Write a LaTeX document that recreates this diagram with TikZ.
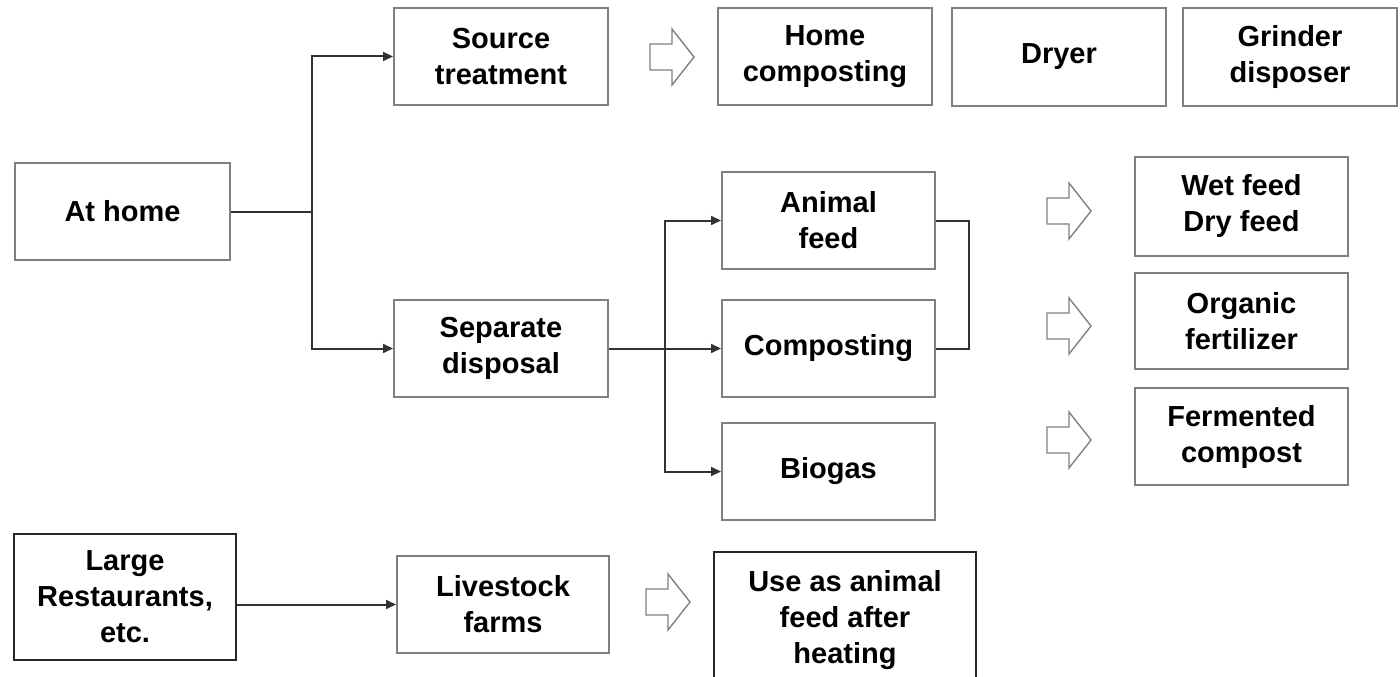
\documentclass[tikz,border=0pt]{standalone}
\usepackage{fontspec}
\setmainfont{Liberation Sans}
\usetikzlibrary{arrows.meta}

\definecolor{boxgray}{RGB}{128,128,128}
\definecolor{linegray}{RGB}{50,50,50}

\tikzset{
  box/.style={draw=boxgray, line width=2pt, align=center, inner sep=0pt,
    minimum width=214pt, minimum height=97pt,
    font=\bfseries\fontsize{29}{36}\selectfont},
  darkbox/.style={box, draw=black!85},
  conn/.style={draw=linegray, line width=2pt},
  tip/.style={conn, -{Triangle[length=10pt,width=9pt]}},
  hollow/.style={draw=boxgray, line width=1.4pt, line join=miter}
}

% block arrow, left end at #1
\newcommand{\blockarrow}[1]{
  \draw [hollow, shift={#1}] (0,-13) -- (22,-13) -- (22,-28) -- (44,0)
    -- (22,28) -- (22,13) -- (0,13) -- cycle;
}

\begin{document}
\begin{tikzpicture}[x=1pt, y=-1pt]
    \useasboundingbox (0,0) rectangle (1400,677);
    % sources
    \node [box, minimum width=215pt] (home) at (122.5, 211.5) {At home};
    \node [darkbox, minimum width=222pt, minimum height=126pt] (large) at (125, 597) {Large\\Restaurants,\\etc.};
    % routes
    \node [box] (source) at (501, 56.5) {Source\\treatment};
    \node [box] (separate) at (501, 348.5) {Separate\\disposal};
    \node [box, minimum width=212pt] (livestock) at (503, 604.5) {Livestock\\farms};
    % source treatment
    \node [box] (homecomp) at (825, 56.5) {Home\\composting};
    \node [box] (dryer) at (1059, 57) {Dryer};
    \node [box] (grinder) at (1290, 57) {Grinder\\disposer};
    % separate disposal
    \node [box, minimum width=213pt] (animal) at (828.5, 220.5) {Animal\\feed};
    \node [box, minimum width=213pt] (compost) at (828.5, 348.5) {Composting};
    \node [box, minimum width=213pt] (biogas) at (828.5, 471.5) {Biogas};
    % products
    \node [box, minimum width=213pt, minimum height=99pt] (wetdry) at (1241.5, 206.5) {Wet feed\\Dry feed};
    \node [box, minimum width=213pt, minimum height=96pt] (organic) at (1241.5, 321) {Organic\\fertilizer};
    \node [box, minimum width=213pt] (fermented) at (1241.5, 436.5) {Fermented\\compost};
    \node [darkbox, minimum width=262pt, minimum height=136pt] (useas) at (845, 620) {Use as animal\\feed after\\heating};
    % connectors
    \draw [conn] (home.east) -- (312, 211.5);
    \draw [tip] (312, 211.5) |- (source);
    \draw [tip] (312, 211.5) |- (separate);
    \draw [tip] (separate) -- (compost);
    \draw [tip] (665, 348.5) |- (animal);
    \draw [tip] (665, 348.5) |- (biogas);
    \draw [conn] (animal.east) -- ++(33,0) |- (compost.east);
    \draw [tip] (large.east |- livestock) -- (livestock);
    % block arrows
    \blockarrow{(650,57)}
    \blockarrow{(1047,211)}
    \blockarrow{(1047,326)}
    \blockarrow{(1047,440)}
    \blockarrow{(646,602)}
\end{tikzpicture}
\end{document}
